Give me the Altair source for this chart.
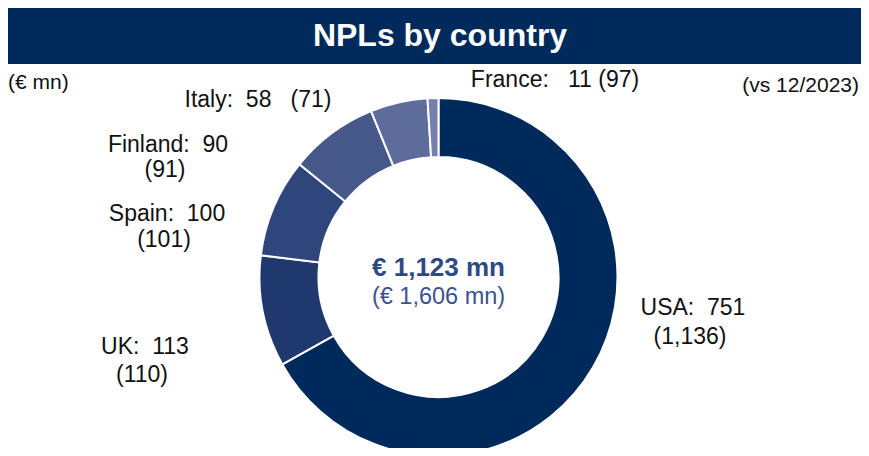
import altair as alt
import pandas as pd

# ---- data ----
countries = ["USA", "UK", "Spain", "Finland", "Italy", "France"]
npl_2024 = [751, 113, 100, 90, 58, 11]          # € mn, current
npl_2023 = [1136, 110, 101, 91, 71, 97]         # € mn, 12/2023
total_2024 = sum(npl_2024)
total_2023 = sum(npl_2023)

# ---- styles / layout (not data) ----
slice_colors = ["#002A5C", "#1F386D", "#2F467D", "#46588A", "#5D6C9B", "#7581AC"]
NAVY = "#002A5C"
FONT = "Liberation Sans"
W, H = 853, 440
CX, CY = 430.5, 269
R_OUT, R_IN = 179, 120
SP = "\u00a0"

# label anchor positions (chart px): x, y of first line, y of second line
label_layout = {
    "USA": (685, 300, 329),
    "UK": (137, 339, 367),
    "Spain": (159, 206, 232),
    "Finland": (160, 137, 162),
    "Italy": (250, 92, None),
    "France": (547, 72, None),
}

df = pd.DataFrame({
    "country": countries,
    "value": npl_2024,
    "prev": npl_2023,
    "idx": list(range(len(countries))),
})

rows = []
for c, v, p in zip(countries, npl_2024, npl_2023):
    x, y1, y2 = label_layout[c]
    if y2 is not None:
        rows.append({"lx": x, "ly": y1, "txt": f"{c}:{SP*2}{v}"})
        rows.append({"lx": x - 3, "ly": y2, "txt": f"({p:,})"})
    elif c == "France":
        rows.append({"lx": x, "ly": y1, "txt": f"{c}:{SP*3}{v}{SP}({p:,})"})
    else:
        rows.append({"lx": x, "ly": y1, "txt": f"{c}:{SP*2}{v}{SP*3}({p:,})"})
labels = pd.DataFrame(rows)

one = pd.DataFrame({"k": [0]})

bar = alt.Chart(one).mark_rect(color=NAVY).encode(
    x=alt.value(0), x2=alt.value(W), y=alt.value(0), y2=alt.value(56)
)
title = alt.Chart(one).mark_text(
    font=FONT, fontSize=32, fontWeight="bold", color="white", baseline="middle", align="center"
).encode(x=alt.value(432), y=alt.value(28), text=alt.value("NPLs by country"))

unit_l = alt.Chart(one).mark_text(
    font=FONT, fontSize=21, color="#111111", align="left", baseline="middle"
).encode(x=alt.value(0), y=alt.value(75), text=alt.value("(€ mn)"))
unit_r = alt.Chart(one).mark_text(
    font=FONT, fontSize=21, color="#111111", align="right", baseline="middle"
).encode(x=alt.value(851), y=alt.value(78), text=alt.value("(vs 12/2023)"))

donut = alt.Chart(df).mark_arc(
    innerRadius=R_IN, outerRadius=R_OUT, stroke="white", strokeWidth=2
).encode(
    theta=alt.Theta("value:Q", stack=True),
    color=alt.Color("country:N", scale=alt.Scale(domain=countries, range=slice_colors), legend=None),
    order=alt.Order("idx:Q"),
    x=alt.value(CX),
    y=alt.value(CY),
)

lab = alt.Chart(labels).mark_text(
    font=FONT, fontSize=23, color="#111111", align="center", baseline="middle"
).encode(
    x=alt.X("lx:Q", scale=None, axis=None),
    y=alt.Y("ly:Q", scale=None, axis=None),
    text="txt:N",
)

center1 = alt.Chart(one).mark_text(
    font=FONT, fontSize=26, fontWeight="bold", color="#2E4A86", align="center", baseline="middle"
).encode(x=alt.value(CX), y=alt.value(260), text=alt.value(f"€ {total_2024:,} mn"))
center2 = alt.Chart(one).mark_text(
    font=FONT, fontSize=23.5, color="#3B5291", align="center", baseline="middle"
).encode(x=alt.value(CX), y=alt.value(289), text=alt.value(f"(€ {total_2023:,} mn)"))

chart = alt.layer(bar, title, unit_l, unit_r, donut, lab, center1, center2).properties(
    width=W, height=H, padding=0, autosize="none"
).configure_view(strokeWidth=0)

chart.save("out.html", embed_options={"renderer": "svg", "actions": False})
